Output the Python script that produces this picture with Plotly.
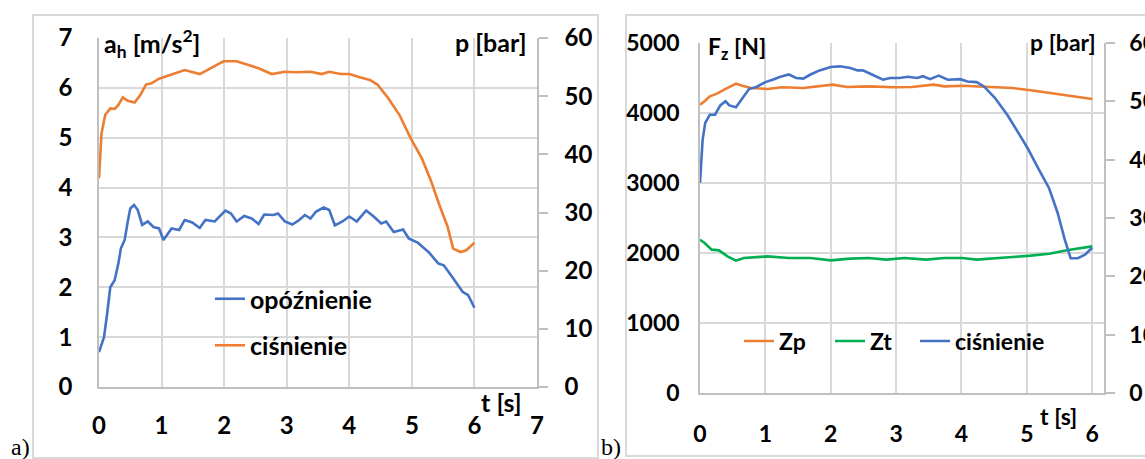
import plotly.graph_objects as go

W, H = 1145, 459


def px(x):
    return x / W


def py(y):
    return 1 - y / H


# ---------------- Panel a) data ----------------
t_a_acc = [0.00, 0.08, 0.13, 0.18, 0.25, 0.31, 0.35, 0.41, 0.46, 0.50, 0.56, 0.62, 0.69, 0.78,
           0.87, 0.96, 1.03, 1.16, 1.28, 1.37, 1.49, 1.61, 1.70, 1.85, 2.02, 2.11, 2.20, 2.32,
           2.44, 2.55, 2.64, 2.79, 2.86, 2.97, 3.09, 3.20, 3.29, 3.38, 3.47, 3.59, 3.68, 3.77,
           3.89, 4.00, 4.12, 4.27, 4.39, 4.51, 4.59, 4.71, 4.86, 4.95, 5.10, 5.28, 5.42, 5.51,
           5.66, 5.81, 5.90, 6.00]
a_acc = [0.70, 1.00, 1.47, 2.00, 2.14, 2.48, 2.78, 2.95, 3.32, 3.58, 3.65, 3.55, 3.25, 3.32,
         3.21, 3.18, 2.95, 3.18, 3.15, 3.35, 3.30, 3.19, 3.35, 3.32, 3.54, 3.48, 3.32, 3.43,
         3.38, 3.27, 3.46, 3.45, 3.48, 3.32, 3.26, 3.35, 3.45, 3.38, 3.52, 3.60, 3.55, 3.24,
         3.32, 3.42, 3.32, 3.54, 3.42, 3.28, 3.32, 3.11, 3.16, 2.98, 2.89, 2.69, 2.48, 2.44,
         2.18, 1.91, 1.84, 1.59]

t_a_p = [0.00, 0.04, 0.10, 0.18, 0.25, 0.31, 0.38, 0.46, 0.57, 0.66, 0.75, 0.84, 0.96, 1.14,
         1.37, 1.61, 1.79, 1.99, 2.20, 2.38, 2.55, 2.76, 2.97, 3.15, 3.38, 3.56, 3.68, 3.86,
         4.00, 4.18, 4.33, 4.45, 4.62, 4.80, 4.98, 5.16, 5.30, 5.45, 5.57, 5.66, 5.78, 5.87,
         6.00]
p_a = [35.9, 43.6, 46.8, 47.9, 47.8, 48.5, 49.8, 49.2, 48.9, 50.2, 52.0, 52.2, 53.0, 53.7,
       54.5, 53.8, 54.8, 56.0, 56.0, 55.4, 54.8, 53.8, 54.2, 54.1, 54.2, 53.8, 54.2, 53.8,
       53.8, 53.2, 52.8, 52.0, 49.7, 46.8, 42.8, 39.3, 35.6, 31.0, 27.6, 23.8, 23.2, 23.5,
       24.8]

# ---------------- Panel b) data ----------------
t_b_p = [0.00, 0.04, 0.08, 0.15, 0.23, 0.31, 0.39, 0.45, 0.55, 0.65, 0.75, 0.87, 1.00, 1.11,
         1.23, 1.36, 1.47, 1.58, 1.69, 1.83, 2.00, 2.14, 2.30, 2.41, 2.49, 2.63, 2.80, 2.91,
         3.05, 3.18, 3.32, 3.41, 3.52, 3.65, 3.79, 3.98, 4.09, 4.23, 4.34, 4.51, 4.70, 4.87,
         5.01, 5.17, 5.34, 5.47, 5.58, 5.67, 5.78, 5.89, 6.00]
p_b = [36.0, 43.4, 46.3, 47.7, 47.7, 49.3, 50.0, 49.3, 49.0, 50.6, 52.1, 52.5, 53.3, 53.7,
       54.2, 54.6, 54.0, 53.9, 54.6, 55.3, 55.9, 56.0, 55.7, 55.3, 55.3, 54.6, 53.7, 54.0,
       54.0, 54.2, 54.0, 54.3, 53.8, 54.4, 53.7, 53.8, 53.4, 53.3, 52.6, 50.6, 47.7, 44.6,
       42.0, 38.6, 35.1, 30.9, 26.3, 23.1, 23.1, 23.7, 24.9]

t_b_zp = [0.00, 0.07, 0.15, 0.26, 0.37, 0.48, 0.55, 0.65, 0.78, 1.03, 1.25, 1.58, 2.03, 2.25,
          2.58, 2.96, 3.24, 3.57, 3.74, 4.01, 4.23, 4.51, 4.78, 5.06, 5.34, 5.61, 5.83, 6.00]
zp = [4119, 4167, 4238, 4276, 4333, 4390, 4419, 4390, 4357, 4343, 4367, 4357, 4405, 4371,
      4381, 4367, 4371, 4405, 4381, 4390, 4381, 4371, 4357, 4324, 4286, 4252, 4224, 4200]

t_b_zt = [0.00, 0.07, 0.18, 0.29, 0.42, 0.55, 0.67, 0.87, 1.03, 1.36, 1.69, 2.00, 2.30, 2.58,
          2.85, 3.13, 3.46, 3.74, 4.01, 4.23, 4.51, 4.78, 5.06, 5.34, 5.61, 5.83, 6.00]
zt = [2190, 2143, 2048, 2038, 1952, 1890, 1929, 1938, 1952, 1929, 1929, 1895, 1919, 1929,
      1905, 1929, 1905, 1929, 1929, 1905, 1929, 1943, 1962, 1990, 2038, 2071, 2095]

# tick values / labels
xt_a = [0, 1, 2, 3, 4, 5, 6, 7]
yt_a = [0, 1, 2, 3, 4, 5, 6, 7]
pt = [0, 10, 20, 30, 40, 50, 60]
xt_b = [0, 1, 2, 3, 4, 5, 6]
ft_b = [0, 1000, 2000, 3000, 4000, 5000]

BLUE = "#4472C4"
ORANGE = "#ED7D31"
GREEN = "#00B050"
GRID = "#d9d9d9"
AXL = "#bfbfbf"
FONT = "Lato, Calibri, sans-serif"


def bf(size):
    return dict(family=FONT, size=size, color="black", weight="bold")


TICK_A = bf(24)
TICK_B = bf(23)
LW = 2.6

fig = go.Figure()
fig.add_trace(go.Scatter(x=t_a_acc, y=a_acc, xaxis="x", yaxis="y", mode="lines",
                         name="opóźnienie", line=dict(color=BLUE, width=LW),
                         legend="legend", legendgroup="a1"))
fig.add_trace(go.Scatter(x=t_a_p, y=p_a, xaxis="x", yaxis="y2", mode="lines",
                         name="ciśnienie", line=dict(color=ORANGE, width=LW),
                         legend="legend", legendgroup="a2"))
fig.add_trace(go.Scatter(x=t_b_zp, y=zp, xaxis="x2", yaxis="y3", mode="lines",
                         name="Zp", line=dict(color=ORANGE, width=LW), legend="legend2"))
fig.add_trace(go.Scatter(x=t_b_zt, y=zt, xaxis="x2", yaxis="y3", mode="lines",
                         name="Zt", line=dict(color=GREEN, width=LW), legend="legend2"))
fig.add_trace(go.Scatter(x=t_b_p, y=p_b, xaxis="x2", yaxis="y4", mode="lines",
                         name="ciśnienie", line=dict(color=BLUE, width=LW), legend="legend3"))

grid_ax = dict(showgrid=True, gridcolor=GRID, gridwidth=1.5, showline=True, linecolor=AXL,
               linewidth=1.5, zeroline=False, ticks="", tickmode="array", automargin=False)
right_y = dict(showgrid=False, showline=True, linecolor=AXL, linewidth=1.5, zeroline=False,
               ticks="outside", ticklen=9, tickcolor=AXL, tickwidth=1.5,
               tickmode="array", side="right", automargin=False)

LEGF_A = bf(25)
LEGF_B = bf(23)

fig.update_layout(
    width=W, height=H,
    margin=dict(l=0, r=0, t=0, b=0, autoexpand=False),
    paper_bgcolor="white", plot_bgcolor="white",
    xaxis=dict(domain=[px(99), px(537)], range=[0, 7], anchor="y", tickfont=TICK_A,
               tickvals=xt_a, ticktext=[str(v) for v in xt_a], ticklabelstandoff=16, **grid_ax),
    yaxis=dict(domain=[py(387), py(38)], range=[0, 7], anchor="x", tickfont=TICK_A,
               tickvals=yt_a, ticktext=[str(v) for v in yt_a], ticklabelstandoff=20, **grid_ax),
    yaxis2=dict(domain=[py(387), py(38)], range=[0, 60], overlaying="y", anchor="x", tickfont=TICK_A,
                tickvals=pt, ticktext=[str(v) for v in pt], ticklabelstandoff=12, **right_y),
    xaxis2=dict(domain=[px(700), px(1104)], range=[0, 6.18], anchor="y3", tickfont=TICK_B,
                tickvals=xt_b, ticktext=[str(v) for v in xt_b], ticklabelstandoff=20, **grid_ax),
    yaxis3=dict(domain=[py(393), py(43)], range=[0, 5000], anchor="x2", tickfont=TICK_B,
                tickvals=ft_b, ticktext=[str(v) for v in ft_b], ticklabelstandoff=14, **grid_ax),
    yaxis4=dict(domain=[py(393), py(43)], range=[0, 60], overlaying="y3", anchor="x2", tickfont=TICK_B,
                tickvals=pt, ticktext=[str(v) for v in pt], ticklabelstandoff=10, **right_y),
    legend=dict(x=px(210), y=py(322), xanchor="left", yanchor="middle", orientation="v",
                bgcolor="rgba(0,0,0,0)", font=LEGF_A, tracegroupgap=11, itemwidth=30),
    legend2=dict(x=px(739), y=py(341), xanchor="left", yanchor="middle", orientation="h",
                 bgcolor="rgba(0,0,0,0)", font=LEGF_B,
                 entrywidth=46, entrywidthmode="pixels", itemwidth=30),
    legend3=dict(x=px(915), y=py(341), xanchor="left", yanchor="middle", orientation="h",
                 bgcolor="rgba(0,0,0,0)", font=LEGF_B, itemwidth=30),
    showlegend=True,
)

TFA = bf(25)
TFB = bf(23)
SERIF = dict(family="Liberation Serif, Times New Roman, serif", size=24, color="black")
ann = [
    dict(text="a<sub>h</sub> [m/s<sup>2</sup>]", x=px(102), y=py(43), xanchor="left", yanchor="middle", font=TFA),
    dict(text="p [bar]", x=px(529), y=py(42), xanchor="right", yanchor="middle", font=TFA),
    dict(text="t [s]", x=px(501), y=py(402), xanchor="center", yanchor="middle", font=TFA),
    dict(text="F<sub>z</sub> [N]", x=px(706), y=py(47), xanchor="left", yanchor="middle", font=TFB),
    dict(text="p [bar]", x=px(1098), y=py(42), xanchor="right", yanchor="middle", font=TFB),
    dict(text="t [s]", x=px(1058), y=py(416), xanchor="center", yanchor="middle", font=TFB),
    dict(text="a)", x=px(21), y=py(447), xanchor="center", yanchor="middle", font=SERIF),
    dict(text="b)", x=px(611), y=py(447), xanchor="center", yanchor="middle", font=SERIF),
]
for a in ann:
    fig.add_annotation(xref="paper", yref="paper", showarrow=False, **a)

fig.add_shape(type="rect", xref="paper", yref="paper", x0=px(33), x1=px(598), y0=py(458), y1=py(15),
              line=dict(color=GRID, width=2), fillcolor="rgba(0,0,0,0)", layer="below")
fig.add_shape(type="rect", xref="paper", yref="paper", x0=px(626), x1=1.02, y0=py(456), y1=py(15),
              line=dict(color=GRID, width=2), fillcolor="rgba(0,0,0,0)", layer="below")

fig.write_html("out.html")
